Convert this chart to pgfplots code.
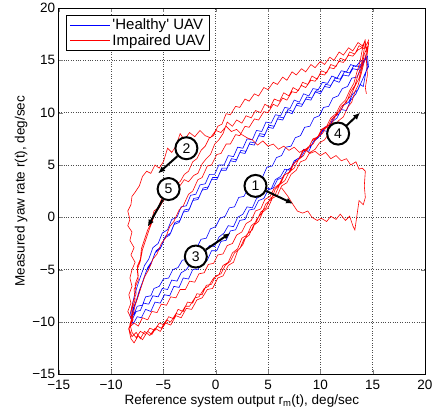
\documentclass[border=0pt]{standalone}
\usepackage{fontspec}
\setmainfont{Liberation Sans}
\usepackage{pgfplots}
\pgfplotsset{compat=1.18}
\usetikzlibrary{arrows.meta}

\begin{document}
\begin{tikzpicture}
\useasboundingbox (-58.7pt,-42pt) rectangle (374pt,374pt);
\begin{axis}[
  width=366pt, height=366pt, scale only axis,
  font=\fontsize{13.5}{16}\selectfont,
  xmin=-15, xmax=20, ymin=-15, ymax=20,
  xtick={-15,-10,...,20}, ytick={-15,-10,...,20},
  xticklabels={−15,−10,−5,0,5,10,15,20},
  yticklabels={−15,−10,−5,0,5,10,15,20},
  xticklabel style={yshift=-2pt},
  grid=major,
  major grid style={dotted, black!70, line width=0.6pt},
  tick align=inside, major tick length=4pt,
  axis line style={line width=0.9pt},
  xlabel={Reference system output r\textsubscript{m}(t), deg/sec},
  ylabel={Measured yaw rate r(t), deg/sec},
  xlabel style={yshift=1.5pt},
  ylabel style={yshift=-2pt},
  legend style={at={(0.02,0.982)}, anchor=north west, draw=black,
    line width=0.8pt, font=\fontsize{15}{17}\selectfont,
    inner xsep=3pt, inner ysep=2pt, row sep=-1pt},
  legend cell align=left,
  legend image code/.code={\draw[#1, line width=1pt] (0pt,0pt) -- (40pt,0pt);},
]
% healthy UAV
\addplot[blue, line width=0.6pt] coordinates {
(-8.0,-9.8) (-7.6,-9.0) (-7.2,-8.9) (-6.9,-8.2) (-6.4,-8.3) (-6.0,-7.5) (-5.5,-7.6) (-5.1,-6.8) (-4.6,-6.9) (-4.2,-6.0) (-3.7,-6.1) (-3.3,-5.3) (-2.8,-5.0) (-2.4,-4.4) (-1.9,-4.5) (-1.5,-3.6) (-1.0,-3.3) (-0.6,-2.7) (-0.1,-2.8) (0.3,-1.9) (0.8,-1.5) (1.2,-0.8) (1.7,-0.9) (2.1,0.0) (2.6,0.3) (3.0,1.0) (3.5,0.9) (3.9,1.8) (4.4,2.1) (4.8,2.8) (5.3,2.7) (5.7,3.6) (6.2,3.9) (6.6,4.6) (7.1,4.5) (7.5,5.4) (8.0,5.7) (8.4,6.5) (8.9,6.3) (9.3,7.2) (9.8,7.6) (10.2,8.3) (10.7,8.2) (11.1,9.1) (11.6,9.5) (12.0,10.3) (12.5,10.2) (12.9,11.2) (13.4,11.8) (13.8,12.7) (14.1,12.5) (14.3,13.6) (14.5,14.5) (14.4,15.2)
(14.0,14.6) (13.6,14.1) (13.1,14.2) (12.7,13.5) (12.2,13.6) (11.8,12.9) (11.3,13.1) (10.9,12.4) (10.4,12.5) (10.0,11.8) (9.5,12.0) (9.1,11.2) (8.6,11.3) (8.2,10.6) (7.7,10.7) (7.3,9.9) (6.8,10.1) (6.4,9.3) (5.9,9.4) (5.5,8.5) (5.0,8.6) (4.6,7.7) (4.1,7.8) (3.7,6.9) (3.2,7.0) (2.8,6.1) (2.3,6.2) (1.9,5.3) (1.4,5.4) (1.0,4.5) (0.5,4.5) (0.1,3.6) (-0.4,3.6) (-0.8,2.7) (-1.3,2.6) (-1.7,1.7) (-2.2,1.6) (-2.6,0.6) (-3.1,0.5) (-3.5,-0.5) (-4.0,-0.7) (-4.4,-1.7) (-4.9,-2.0) (-5.3,-3.0) (-5.8,-3.4) (-6.2,-4.5) (-6.6,-5.1) (-7.0,-6.2) (-7.3,-7.0) (-7.6,-8.0) (-7.9,-8.7) (-8.1,-9.6)
(-7.8,-9.2) (-7.5,-8.5) (-7.0,-8.4) (-6.7,-7.6) (-6.2,-7.5) (-5.9,-6.8) (-5.4,-6.6) (-5.0,-5.9) (-4.5,-5.8) (-4.1,-5.0) (-3.6,-4.8) (-3.2,-4.1) (-2.7,-4.0) (-2.3,-3.1) (-1.8,-2.9) (-1.4,-2.1) (-0.9,-2.0) (-0.5,-1.1) (0.0,-0.9) (0.4,-0.1) (0.9,0.1) (1.3,0.9) (1.8,1.0) (2.2,1.9) (2.7,2.0) (3.1,2.8) (3.6,3.0) (4.0,3.8) (4.5,3.9) (4.9,4.8) (5.4,4.9) (5.8,5.7) (6.3,5.9) (6.7,6.7) (7.2,6.8) (7.6,7.6) (8.1,7.8) (8.5,8.6) (9.0,8.7) (9.4,9.5) (9.9,9.7) (10.3,10.5) (10.8,10.6) (11.2,11.4) (11.7,11.6) (12.1,12.3) (12.6,12.5) (13.0,13.3) (13.5,13.4) (13.9,14.2) (14.2,14.9) (14.4,15.6)
(14.2,15.0) (13.8,14.9) (13.4,14.4) (12.9,14.6) (12.5,13.9) (12.0,14.0) (11.6,13.3) (11.1,13.5) (10.7,12.8) (10.2,12.9) (9.8,12.2) (9.3,12.3) (8.9,11.6) (8.4,11.8) (8.0,11.0) (7.5,11.2) (7.1,10.4) (6.6,10.5) (6.2,9.7) (5.7,9.8) (5.3,9.0) (4.8,9.1) (4.4,8.2) (3.9,8.3) (3.5,7.4) (3.0,7.5) (2.6,6.6) (2.1,6.7) (1.7,5.8) (1.2,5.9) (0.8,5.0) (0.3,5.0) (-0.1,4.1) (-0.6,4.1) (-1.0,3.2) (-1.5,3.1) (-1.9,2.2) (-2.4,2.1) (-2.8,1.1) (-3.3,1.0) (-3.7,0.0) (-4.2,-0.2) (-4.6,-1.2) (-5.1,-1.5) (-5.5,-2.5) (-6.0,-2.9) (-6.4,-4.0) (-6.8,-4.6) (-7.2,-5.7) (-7.5,-6.6) (-7.8,-7.6) (-8.0,-8.5) (-8.2,-9.4)
(-7.9,-10.2) (-7.5,-9.5) (-7.1,-9.6) (-6.7,-8.8) (-6.2,-9.0) (-5.8,-8.1) (-5.3,-8.2) (-4.9,-7.4) (-4.4,-7.5) (-4.0,-6.6) (-3.5,-6.7) (-3.1,-5.8) (-2.6,-5.9) (-2.2,-5.0) (-1.7,-5.0) (-1.3,-4.1) (-0.8,-4.1) (-0.4,-3.2) (0.1,-3.2) (0.5,-2.3) (1.0,-2.2) (1.4,-1.3) (1.9,-1.2) (2.3,-0.3) (2.8,-0.2) (3.2,0.7) (3.7,0.8) (4.1,1.6) (4.6,1.8) (5.0,2.6) (5.5,2.8) (5.9,3.6) (6.4,3.8) (6.8,4.5) (7.3,4.8) (7.7,5.5) (8.2,5.8) (8.6,6.5) (9.1,6.8) (9.5,7.5) (10.0,7.8) (10.4,8.6) (10.9,8.8) (11.3,9.6) (11.8,9.9) (12.2,10.7) (12.7,11.0) (13.1,11.8) (13.6,12.2) (14.0,13.1) (14.3,13.8) (14.6,14.4) (14.5,15.4)
(14.1,14.9) (13.7,14.4) (13.2,14.5) (12.8,13.8) (12.3,13.9) (11.9,13.2) (11.4,13.3) (11.0,12.6) (10.5,12.7) (10.1,12.0) (9.6,12.1) (9.2,11.4) (8.7,11.5) (8.3,10.8) (7.8,10.9) (7.4,10.1) (6.9,10.3) (6.5,9.5) (6.0,9.6) (5.6,8.7) (5.1,8.8) (4.7,7.9) (4.2,8.0) (3.8,7.1) (3.3,7.2) (2.9,6.3) (2.4,6.4) (2.0,5.5) (1.5,5.6) (1.1,4.7) (0.6,4.7) (0.2,3.8) (-0.3,3.8) (-0.7,2.9) (-1.2,2.8) (-1.6,1.9) (-2.1,1.8) (-2.5,0.8) (-3.0,0.7) (-3.4,-0.3) (-3.9,-0.5) (-4.3,-1.5) (-4.8,-1.8) (-5.2,-2.8) (-5.7,-3.2) (-6.1,-4.2) (-6.5,-4.8) (-6.9,-5.9) (-7.2,-6.8) (-7.5,-7.8) (-7.8,-8.6) (-8.0,-9.5)
};
% impaired UAV
\addplot[red, line width=0.6pt] coordinates {
(6.3,2.8) (6.9,2.0) (7.4,1.2) (7.8,0.6) (8.3,0.4) (8.8,0.6) (9.2,0.0) (9.7,-0.3) (10.1,-0.1) (10.6,-0.4) (11.0,0.1) (11.5,-0.2) (11.9,0.3) (12.4,-0.3) (12.8,0.1) (13.1,-0.8) (13.3,-1.2) (13.5,0.2) (13.7,1.6) (14.1,1.2) (14.3,1.9) (14.2,3.0) (14.3,4.4) (14.0,4.7) (13.7,4.6) (13.4,5.3) (12.9,5.0) (12.5,5.6) (12.0,5.4) (11.5,5.9) (11.0,5.6) (10.5,6.2) (10.0,5.9) (9.5,6.3) (9.0,6.1) (8.5,6.5) (8.0,6.2) (7.5,6.7) (7.0,6.4) (6.5,6.8) (6.0,6.5) (5.5,7.0) (5.0,6.8) (4.5,7.3) (4.0,6.9) (3.5,7.4) (3.0,7.6) (2.5,7.9) (2.0,8.4) (1.5,8.2) (1.0,8.7) (0.5,8.1) (0.0,8.3) (-0.5,7.6) (-1.0,7.8) (-1.5,8.3) (-2.0,7.7) (-2.5,8.1) (-3.0,7.4) (-3.4,8.0) (-3.8,6.8) (-4.2,6.2) (-4.6,6.6) (-5.0,5.3) (-5.4,4.7) (-5.8,5.0) (-6.2,4.2) (-6.6,4.4) (-7.0,3.9) (-7.3,3.0) (-7.7,2.4) (-8.0,2.0) (-8.1,1.2) (-8.4,0.6) (-8.2,-0.2) (-8.4,-0.8) (-8.0,-1.4) (-8.2,-2.2) (-7.8,-2.9) (-8.1,-3.6) (-7.7,-4.3) (-8.0,-5.0) (-8.2,-5.8) (-8.0,-6.6) (-8.3,-7.4) (-8.1,-8.2) (-8.4,-9.0) (-8.0,-9.8) (-8.3,-10.6) (-8.0,-11.4)
(-7.6,-11.0) (-7.2,-11.6) (-6.8,-10.9) (-6.3,-11.3) (-5.8,-10.6) (-5.3,-10.9) (-4.8,-10.1) (-4.3,-10.3) (-3.8,-9.4) (-3.3,-9.6) (-2.8,-8.7) (-2.3,-8.8) (-1.8,-7.9) (-1.3,-7.7) (-0.8,-6.9) (-0.3,-6.8) (0.2,-5.8) (0.7,-5.6) (1.2,-4.6) (1.7,-4.3) (2.1,-3.2) (2.6,-2.6) (3.0,-1.6) (3.5,-1.2) (3.9,-0.2) (4.4,0.4) (4.8,1.3) (5.3,1.7) (5.7,2.7) (6.2,3.2) (6.6,4.1) (7.1,4.3) (7.5,5.2) (8.0,5.6) (8.4,6.4) (8.9,6.7) (9.3,7.5) (9.8,7.7) (10.2,8.4) (10.7,8.6) (11.1,9.4) (11.6,9.8) (12.0,10.6) (12.5,11.0) (12.9,12.0) (13.3,12.6) (13.6,13.6) (13.9,14.5) (14.1,15.6) (14.3,16.6) (14.5,15.8) (14.6,16.9)
(14.2,16.1) (13.7,16.4) (13.3,15.6) (12.8,15.8) (12.4,15.0) (11.9,15.2) (11.5,14.4) (11.0,14.6) (10.6,13.8) (10.1,14.0) (9.7,13.2) (9.2,13.5) (8.8,12.7) (8.3,12.9) (7.9,12.1) (7.4,12.4) (7.0,11.6) (6.5,11.9) (6.1,11.1) (5.6,11.3) (5.2,10.5) (4.7,10.8) (4.3,10.0) (3.8,10.2) (3.4,9.5) (2.9,9.7) (2.5,9.0) (2.0,9.3) (1.6,8.7) (1.1,9.1) (0.7,8.0) (0.3,7.4) (-0.1,7.0) (-0.5,6.0) (-0.9,5.6) (-1.3,5.1) (-1.7,4.2) (-2.1,4.0) (-2.6,3.4) (-3.0,3.6) (-3.5,2.9) (-3.9,3.1) (-4.4,2.3) (-4.8,2.5) (-5.2,1.7) (-5.5,0.9) (-5.9,0.6) (-6.2,-0.6) (-6.5,-1.2) (-6.8,-2.1) (-7.1,-3.0) (-7.2,-4.0) (-7.5,-4.7) (-7.4,-5.6) (-7.7,-6.4) (-7.6,-7.3) (-7.9,-8.1) (-8.1,-9.0) (-8.0,-9.9) (-8.3,-10.6)
(-7.8,-10.1) (-7.4,-10.4) (-7.0,-9.6) (-6.5,-9.8) (-6.1,-9.0) (-5.6,-9.1) (-5.2,-8.3) (-4.7,-8.4) (-4.3,-7.6) (-3.8,-7.7) (-3.4,-6.9) (-2.9,-6.9) (-2.5,-6.1) (-2.0,-6.2) (-1.6,-5.4) (-1.1,-5.3) (-0.7,-4.5) (-0.2,-4.4) (0.2,-3.6) (0.7,-3.5) (1.1,-2.7) (1.6,-2.5) (2.0,-1.7) (2.5,-1.4) (2.9,-0.6) (3.4,-0.3) (3.8,0.6) (4.3,0.8) (4.7,1.7) (5.2,2.0) (5.6,2.8) (6.1,3.2) (6.5,4.0) (7.0,4.3) (7.4,5.1) (7.9,5.5) (8.3,6.3) (8.8,6.5) (9.2,7.3) (9.7,7.6) (10.1,8.4) (10.6,8.7) (11.0,9.5) (11.5,9.9) (11.9,10.7) (12.4,11.2) (12.8,12.1) (13.2,12.8) (13.5,13.9) (13.8,14.9) (14.0,16.0) (14.3,17.0)
(14.0,16.2) (13.6,16.0) (13.1,15.4) (12.7,15.5) (12.2,14.8) (11.8,14.9) (11.3,14.2) (10.9,14.3) (10.4,13.6) (10.0,13.7) (9.5,13.0) (9.1,13.1) (8.6,12.4) (8.2,12.6) (7.7,11.9) (7.3,12.0) (6.8,11.2) (6.4,11.4) (5.9,10.6) (5.5,10.8) (5.0,10.0) (4.6,10.1) (4.1,9.3) (3.7,9.4) (3.2,8.6) (2.8,8.7) (2.3,7.8) (1.9,7.9) (1.4,7.0) (1.0,7.0) (0.5,6.1) (0.1,6.0) (-0.4,5.0) (-0.8,4.9) (-1.3,3.8) (-1.7,3.6) (-2.2,2.5) (-2.6,2.2) (-3.1,1.1) (-3.5,0.7) (-4.0,-0.4) (-4.4,-0.9) (-4.8,-2.0) (-5.2,-2.5) (-5.6,-3.5) (-6.0,-4.0) (-6.4,-5.0) (-6.8,-5.7) (-7.1,-6.6) (-7.4,-7.5) (-7.7,-8.4) (-7.9,-9.3) (-8.2,-10.2) (-8.0,-11.0)
(-7.6,-11.5) (-7.2,-10.9) (-6.7,-11.2) (-6.3,-10.6) (-5.8,-10.8) (-5.4,-10.1) (-4.9,-10.3) (-4.5,-9.5) (-4.0,-9.7) (-3.6,-8.8) (-3.1,-9.0) (-2.7,-8.1) (-2.2,-8.2) (-1.8,-7.3) (-1.3,-7.4) (-0.9,-6.5) (-0.4,-6.4) (0.0,-5.6) (0.5,-5.4) (0.9,-4.6) (1.4,-4.2) (1.8,-3.4) (2.3,-3.0) (2.7,-2.1) (3.2,-1.7) (3.6,-0.8) (4.1,-0.4) (4.5,0.5) (5.0,0.9) (5.4,1.8) (5.9,2.1) (6.3,3.0) (6.8,3.3) (7.2,4.1) (7.7,4.5) (8.1,5.3) (8.6,5.5) (9.0,6.2) (9.5,6.5) (9.9,7.1) (10.4,7.4) (10.8,8.0) (11.3,8.4) (11.7,9.2) (12.2,9.6) (12.6,10.5) (13.0,11.0) (13.3,12.0) (13.6,12.6) (13.9,13.7) (14.1,14.5) (14.4,15.7) (14.3,16.8)
(14.0,16.4) (13.6,16.7) (13.1,15.9) (12.7,16.2) (12.2,15.5) (11.8,15.8) (11.3,15.0) (10.9,15.3) (10.4,14.6) (10.0,14.9) (9.5,14.3) (9.1,14.6) (8.6,13.9) (8.2,14.2) (7.7,13.6) (7.3,13.9) (6.8,13.1) (6.4,13.4) (5.9,12.7) (5.5,12.9) (5.0,12.2) (4.6,12.4) (4.1,11.6) (3.7,11.8) (3.2,11.1) (2.8,11.3) (2.3,10.5) (1.9,10.6) (1.4,9.8) (1.0,9.9) (0.6,8.9) (0.2,8.7) (-0.2,7.8) (-0.6,7.6) (-1.0,6.8) (-1.4,6.4) (-1.8,5.6) (-2.2,5.3) (-2.6,4.4) (-3.0,4.1) (-3.4,3.4) (-3.8,3.2) (-4.2,2.5) (-4.6,2.1) (-5.0,1.6) (-5.4,0.9) (-5.8,0.4) (-6.1,-0.5) (-6.4,-1.3) (-6.7,-2.2) (-7.0,-3.1) (-7.2,-4.2) (-7.5,-5.0) (-7.4,-6.0) (-7.8,-6.9) (-7.7,-7.9) (-8.0,-8.8) (-7.9,-9.8) (-8.3,-10.7) (-8.1,-11.6) (-7.8,-12.0)
(-7.4,-11.3) (-7.0,-11.7) (-6.5,-10.9) (-6.1,-11.2) (-5.6,-10.4) (-5.2,-10.6) (-4.7,-9.8) (-4.3,-10.0) (-3.8,-9.2) (-3.4,-9.3) (-2.9,-8.5) (-2.5,-8.5) (-2.0,-7.7) (-1.6,-7.6) (-1.1,-6.8) (-0.7,-6.6) (-0.2,-5.8) (0.3,-5.5) (0.7,-4.6) (1.2,-4.3) (1.6,-3.4) (2.1,-3.0) (2.5,-2.0) (3.0,-1.7) (3.4,-0.8) (3.9,-0.4) (4.3,0.5) (4.8,0.9) (5.2,1.8) (5.7,2.2) (6.1,3.1) (6.6,3.5) (7.0,4.3) (7.5,4.7) (7.9,5.5) (8.4,5.9) (8.8,6.7) (9.3,7.0) (9.7,7.7) (10.2,8.0) (10.6,8.7) (11.1,9.0) (11.5,9.8) (12.0,10.3) (12.4,11.0) (12.9,11.6) (13.3,12.5) (13.7,13.3) (14.0,14.5) (14.2,15.6) (14.6,16.5) (14.4,15.0) (14.5,13.6) (14.3,12.4) (14.4,11.8)
};
\legend{\textquotesingle Healthy\textquotesingle{} UAV, Impaired UAV}

% circled step markers
\tikzset{numcirc/.style={circle, draw=black, line width=2pt, fill=white,
  inner sep=1.5pt, minimum size=22pt, font=\fontsize{14}{16}\selectfont},
  arr/.style={-{Latex[length=7pt,width=6pt]}, line width=2pt, black}}
\node[numcirc] (c1) at (axis cs:3.8,3.0) {1};
\node[numcirc] (c2) at (axis cs:-2.8,6.6) {2};
\node[numcirc] (c3) at (axis cs:-1.9,-3.75) {3};
\node[numcirc] (c4) at (axis cs:11.7,8.0) {4};
\node[numcirc] (c5) at (axis cs:-4.5,2.7) {5};
\draw[arr] (c1) -- (axis cs:7.4,1.3);
\draw[arr] (c2) -- (axis cs:-5.5,4.2);
\draw[arr] (c3) -- (axis cs:1.4,-1.5);
\draw[arr] (c4) -- (axis cs:13.8,10.0);
\draw[arr] (c5) -- (axis cs:-6.5,-0.9);
\end{axis}
\end{tikzpicture}
\end{document}
